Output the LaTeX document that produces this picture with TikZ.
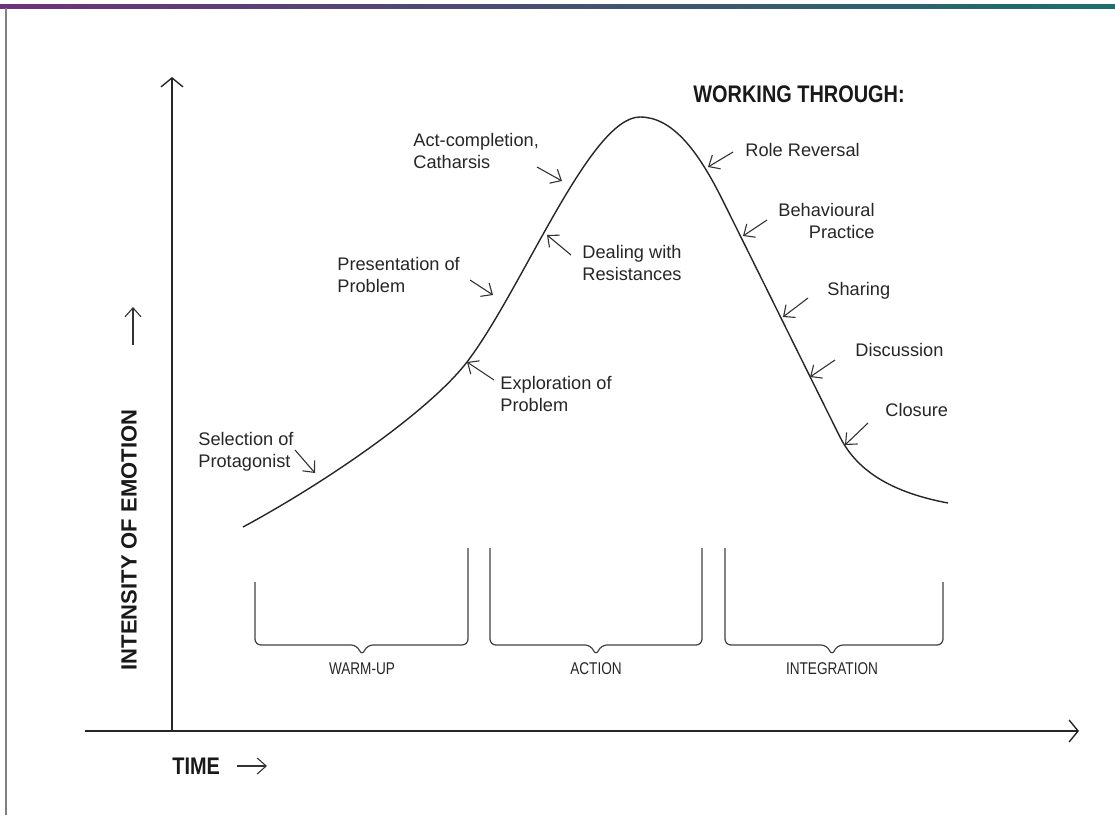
\documentclass[tikz,border=0pt]{standalone}
\usepackage{fontspec}
\setmainfont{Liberation Sans}
\newfontfamily\headfont[FakeStretch=0.83]{Liberation Sans}
\newfontfamily\phasefont[FakeStretch=0.8]{Liberation Sans}
\usetikzlibrary{arrows.meta}
\tikzset{>={Straight Barb[length=4.5pt,width=11pt]}}
\tikzset{lbl/.style={inner sep=0pt, anchor=north west, align=left, text=black!85,
    font=\fontsize{9.1}{11}\selectfont}}
\tikzset{ptr/.style={-{Straight Barb[length=4.5pt,width=8pt]}, line width=0.55pt, draw=black!80}}
\tikzset{axis/.style={line width=0.7pt, draw=black!85}}
\tikzset{curve/.style={line width=0.7pt, draw=black!85}}
\tikzset{bracket/.style={line width=0.6pt, draw=black!75, rounded corners=3pt}}
\tikzset{phase/.style={inner sep=0pt, text=black!85, font=\phasefont\fontsize{8.5}{10}\selectfont}}
\tikzset{head/.style={inner sep=0pt, text=black!90, font=\headfont\bfseries\fontsize{12}{14}\selectfont}}

\definecolor{frameL}{RGB}{110,50,120}
\definecolor{frameM}{RGB}{40,40,100}
\definecolor{frameR}{RGB}{30,110,110}

\begin{document}
\begin{tikzpicture}[x=0.5pt, y=-0.5pt]
\useasboundingbox (0,0) rectangle (1115,815);

% frame
\shade[left color=frameL, middle color=frameM, right color=frameR] (0,4) rectangle (1115,8);
\draw[black!50, line width=0.7pt] (6,8) -- (6,815);

% axes
\coordinate (orig) at (172,731);
\coordinate (ytop) at (172,77);
\coordinate (xleft) at (85,731);
\coordinate (xright) at (1079,731);
\draw[axis, ->] (orig) -- (ytop);
\draw[axis, ->] (xleft) -- (xright);

\node[head, anchor=west] (time) at (172,766) {TIME};
\coordinate (timeA) at (237,766);
\coordinate (timeB) at (267,766);
\draw[ptr] (timeA) -- (timeB);

\node[head, font=\bfseries\fontsize{11}{13}\selectfont, rotate=90] (intens) at (129,540) {INTENSITY OF EMOTION};
\coordinate (upA) at (133,345);
\coordinate (upB) at (133,307);
\draw[ptr] (upA) -- (upB);

% the curve
\draw[curve] (243,527)
  .. controls (330,480) and (430,410) .. (467,362)
  .. controls (522,290) and (590,117) .. (640,117)
  .. controls (672,117) and (697,150) .. (720,195)
  .. controls (745,245) and (820,397) .. (840,437)
  .. controls (858,473) and (895,493) .. (948,503);

\node[head, anchor=north west] (work) at (693,85) {WORKING THROUGH:};

% labels
\node[lbl] (sel) at (198,432) {Selection of\\Protagonist};
\node[lbl] (pres) at (337,257) {Presentation of\\Problem};
\node[lbl] (expl) at (500,376) {Exploration of\\Problem};
\node[lbl] (deal) at (582,245) {Dealing with\\Resistances};
\node[lbl] (act) at (413,133) {Act-completion,\\Catharsis};
\node[lbl] (role) at (745,143) {Role Reversal};
\node[lbl, anchor=north east, align=right] (beh) at (875,203) {Behavioural\\Practice};
\node[lbl] (shar) at (827,282) {Sharing};
\node[lbl] (disc) at (855,343) {Discussion};
\node[lbl] (clos) at (885,403) {Closure};

% pointers
\coordinate (selA) at (295,450);  \coordinate (selB) at (315,473);
\coordinate (presA) at (470,280); \coordinate (presB) at (493,295);
\coordinate (explA) at (494,380); \coordinate (explB) at (467,362);
\coordinate (dealA) at (571,255); \coordinate (dealB) at (547,235);
\coordinate (actA) at (537,167);  \coordinate (actB) at (562,181);
\coordinate (roleA) at (733,152); \coordinate (roleB) at (708,167);
\coordinate (behA) at (767,220);  \coordinate (behB) at (743,236);
\coordinate (sharA) at (808,298); \coordinate (sharB) at (783,317);
\coordinate (discA) at (835,360); \coordinate (discB) at (810,377);
\coordinate (closA) at (868,423); \coordinate (closB) at (845,445);
\draw[ptr] (selA) -- (selB);
\draw[ptr] (presA) -- (presB);
\draw[ptr] (explA) -- (explB);
\draw[ptr] (dealA) -- (dealB);
\draw[ptr] (actA) -- (actB);
\draw[ptr] (roleA) -- (roleB);
\draw[ptr] (behA) -- (behB);
\draw[ptr] (sharA) -- (sharB);
\draw[ptr] (discA) -- (discB);
\draw[ptr] (closA) -- (closB);

% phases
\draw[bracket] (255,582) -- (255,645) -- (357,645) -- (362,656) -- (367,645) -- (468,645) -- (468,548);
\draw[bracket] (490,548) -- (490,645) -- (591,645) -- (596,656) -- (601,645) -- (702,645) -- (702,548);
\draw[bracket] (725,548) -- (725,645) -- (827,645) -- (832,656) -- (837,645) -- (943,645) -- (943,582);
\node[phase] (warm) at (362,669) {WARM-UP};
\node[phase] (actn) at (596,669) {ACTION};
\node[phase] (integ) at (832,669) {INTEGRATION};
\end{tikzpicture}
\end{document}
